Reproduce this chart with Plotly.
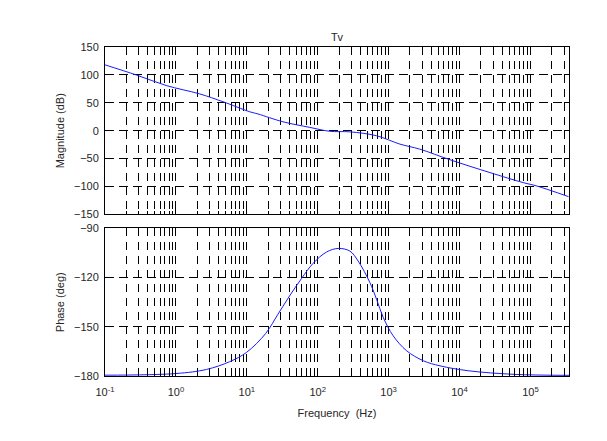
import math
import plotly.graph_objects as go

# ---- data ----
mag_freq = [0.1, 0.275, 0.731, 2.16, 4.61, 11.0, 14.4, 32.4, 77.3, 148, 284, 676,
            1445, 2754, 7345, 26900, 79400, 123000, 344000]
mag_db = [118, 100, 81, 66, 52, 34, 30, 16, 6, -1, -2, -9,
          -24, -33, -52, -75, -93, -99, -118]

phase_freq = [0.1, 1.0, 2.7, 5.7, 9.9, 18.5, 27.5, 40, 59, 86, 133, 194, 284, 372,
              544, 676, 840, 1160, 1795, 3085, 5300, 13300, 60000, 350000]
phase_deg = [-179.5, -178.5, -176, -171.3, -165.6, -154, -142.3, -131.2, -120.6,
             -111.3, -104.4, -102.2, -103.8, -109.9, -123, -133.2, -144.3, -155.5,
             -164.6, -170.7, -173.8, -176.8, -179, -179.6]

x_tickvals = [0.1, 1, 10, 100, 1000, 10000, 100000]
x_ticktext = ["10<sup>-1</sup>", "10<sup>0</sup>", "10<sup>1</sup>", "10<sup>2</sup>",
              "10<sup>3</sup>", "10<sup>4</sup>", "10<sup>5</sup>"]
mag_ticks = [-150, -100, -50, 0, 50, 100, 150]
phase_ticks = [-180, -150, -120, -90]

x_min, x_max = 0.1, 3.5e5

# ---- figure ----
FONT = "Liberation Sans, Arial, sans-serif"
TXT = "#262626"
LINE = "#1a1aff"

fig = go.Figure()
fig.add_trace(go.Scatter(x=mag_freq, y=mag_db, xaxis="x", yaxis="y", mode="lines",
                         line=dict(color=LINE, width=1, shape="spline"), showlegend=False))
fig.add_trace(go.Scatter(x=phase_freq, y=phase_deg, xaxis="x2", yaxis="y2", mode="lines",
                         line=dict(color=LINE, width=1, shape="spline"), showlegend=False))

xgrid = dict(
    type="log", range=[math.log10(x_min), math.log10(x_max)],
    showline=True, linecolor="black", linewidth=1, mirror="allticks",
    ticks="inside", ticklen=5, tickcolor="black",
    showgrid=True, gridcolor="black", gridwidth=1, griddash="8px,6px",
    tickvals=x_tickvals, ticktext=x_ticktext,
    minor=dict(dtick="D1", showgrid=True, gridcolor="black", gridwidth=1,
               griddash="8px,6px", ticks="inside", ticklen=3, tickcolor="black"),
    zeroline=False,
    tickfont=dict(family=FONT, size=11, color=TXT),
)
ygrid = dict(
    showline=True, linecolor="black", linewidth=1, mirror="allticks",
    ticks="inside", ticklen=5, tickcolor="black",
    showgrid=True, gridcolor="black", gridwidth=1, griddash="9px,5px",
    zeroline=False, ticklabelstandoff=3,
    tickfont=dict(family=FONT, size=11, color=TXT),
)

fig.update_layout(
    width=607, height=441,
    margin=dict(l=105, r=38, t=47, b=65, pad=0),
    paper_bgcolor="white", plot_bgcolor="white",
    font=dict(family=FONT, size=11, color=TXT),
    title=dict(text="Tv", x=0.5, xref="paper", xanchor="center",
               y=1 - 37 / 441, yref="container", yanchor="middle",
               font=dict(family=FONT, size=11, color=TXT)),
    xaxis=dict(xgrid, anchor="y", showticklabels=False),
    xaxis2=dict(xgrid, anchor="y2", ticklabelstandoff=6,
                title=dict(text="Frequency  (Hz)", standoff=12,
                           font=dict(family=FONT, size=11, color=TXT))),
    yaxis=dict(ygrid, domain=[0.491, 1.0], range=[-150, 150], tickvals=mag_ticks,
               title=dict(text="Magnitude (dB)", standoff=7,
                          font=dict(family=FONT, size=11, color=TXT))),
    yaxis2=dict(ygrid, domain=[0.0, 0.4485], range=[-180, -90], tickvals=phase_ticks,
                title=dict(text="Phase (deg)", standoff=7,
                           font=dict(family=FONT, size=11, color=TXT))),
)

fig.write_html("out.html")
